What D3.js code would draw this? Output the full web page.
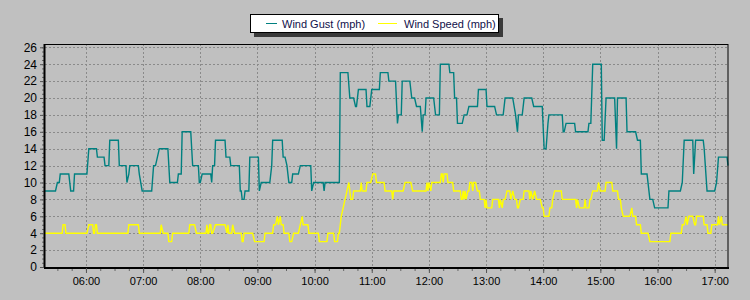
<!DOCTYPE html>
<html>
<head>
<meta charset="utf-8">
<script src="https://cdn.jsdelivr.net/npm/d3@7"></script>
<style>
  html, body { margin: 0; padding: 0; background: #c0c0c0; }
  svg { display: block; font-family: "Liberation Sans", Arial, sans-serif; }
</style>
</head>
<body>
<svg id="chart" width="750" height="300"></svg>
<script>
// series as [time, mph] vertices
const gust = [
  ["05:17",9],["05:28",9],["05:30",10],["05:32",10],["05:33",11],["05:42",11],["05:44",9],["05:47",9],
  ["05:48",11],["06:01",11],["06:03",14],["06:11",14],["06:12",13],["06:19",13],["06:20",12],["06:24",12],
  ["06:25",15],["06:34",15],["06:35",12],["06:42",12],["06:43",10],["06:45",11],["06:46",12],["06:55",12],
  ["06:56",11],["06:59",9],["07:09",9],["07:11",12],["07:13",12],["07:15",13],["07:17",14],["07:26",14],
  ["07:28",10],["07:36",10],["07:37",11],["07:40",11],["07:41",16],["07:50",16],["07:52",12],["07:58",12],
  ["07:59",10],["08:00",10],["08:02",11],["08:11",11],["08:12",10],["08:13",12],["08:15",12],["08:16",15],
  ["08:26",15],["08:27",13],["08:31",13],["08:32",12],["08:41",12],["08:42",9],["08:43",9],["08:44",8],
  ["08:46",8],["08:47",9],["08:51",9],["08:52",13],["09:01",13],["09:02",9],["09:04",10],["09:13",10],
  ["09:15",12],["09:16",15],["09:26",15],["09:27",13],["09:29",13],["09:31",12],["09:32",11],["09:33",10],
  ["09:36",10],["09:37",11],["09:43",11],["09:45",12],["09:56",12],["09:57",9],["09:59",10],["10:09",10],
  ["10:10",9],["10:11",10],["10:26",10],["10:27",23],["10:35",23],["10:37",20],["10:41",20],["10:43",19],
  ["10:44",19],["10:46",21],["10:54",21],["10:55",19],["10:58",19],["11:00",21],["11:08",21],["11:09",23],
  ["11:17",23],["11:18",22],["11:25",22],["11:27",17],["11:28",18],["11:31",18],["11:32",22],["11:40",22],
  ["11:42",20],["11:45",20],["11:47",19],["11:51",19],["11:53",16],["11:54",18],["11:56",18],["11:57",20],
  ["12:05",20],["12:07",18],["12:11",18],["12:12",24],["12:21",24],["12:22",23],["12:26",23],["12:27",20],
  ["12:29",20],["12:30",17],["12:35",17],["12:37",18],["12:40",18],["12:42",19],["12:51",19],["12:52",21],
  ["13:00",21],["13:01",19],["13:09",19],["13:11",18],["13:18",18],["13:20",20],["13:28",20],["13:31",18],
  ["13:33",16],["13:34",18],["13:38",18],["13:40",20],["13:48",20],["13:50",19],["13:59",19],["14:01",14],
  ["14:03",14],["14:05",17],["14:06",18],["14:20",18],["14:21",16],["14:22",16],["14:24",17],["14:33",17],
  ["14:34",16],["14:47",16],["14:48",17],["14:50",17],["14:52",24],["15:01",24],["15:02",15],["15:04",15],
  ["15:06",20],["15:15",20],["15:17",14],["15:18",20],["15:27",20],["15:28",16],["15:37",16],["15:39",15],
  ["15:42",15],["15:43",11],["15:49",11],["15:52",8],["15:55",8],["15:57",7],["16:11",7],["16:12",9],
  ["16:24",9],["16:26",10],["16:28",15],["16:37",15],["16:38",11],["16:40",15],["16:48",15],["16:49",14],
  ["16:52",9],["17:00",9],["17:02",10],["17:04",13],["17:13",13],["17:14",12]
];

const speed = [
  ["05:17",4],["05:35",4],["05:36",5],["05:38",5],["05:39",4],["06:01",4],["06:03",5],["06:07",5],
  ["06:08",4],["06:09",4],["06:10",5],["06:11",5],["06:12",4],["06:44",4],["06:45",5],["06:55",5],
  ["06:56",4],["07:18",4],["07:19",5],["07:21",4],["07:26",4],["07:27",3],["07:30",3],["07:31",4],
  ["07:48",4],["07:49",5],["07:54",5],["07:56",4],["08:06",4],["08:07",5],["08:08",4],["08:09",4],
  ["08:10",5],["08:11",5],["08:12",4],["08:13",4],["08:16",5],["08:26",5],["08:28",4],["08:29",5],
  ["08:30",4],["08:33",4],["08:34",5],["08:36",4],["08:43",4],["08:44",3],["08:45",3],["08:46",4],
  ["08:55",4],["08:57",3],["09:07",3],["09:08",4],["09:16",4],["09:17",5],["09:19",5],["09:21",6],
  ["09:22",5],["09:24",6],["09:25",5],["09:27",5],["09:28",4],["09:33",4],["09:34",3],["09:36",3],
  ["09:38",4],["09:43",4],["09:45",5],["09:47",6],["09:48",5],["09:53",5],["09:54",4],["10:04",4],
  ["10:05",3],["10:13",3],["10:14",4],["10:20",4],["10:21",3],["10:24",3],["10:25",4],["10:26",4],
  ["10:28",6],["10:30",7],["10:32",8],["10:34",9],["10:36",10],["10:38",8],["10:40",8],["10:41",9],
  ["10:48",9],["10:49",10],["10:50",9],["10:54",9],["10:55",10],["10:59",10],["11:01",11],["11:04",11],
  ["11:05",10],["11:13",10],["11:14",9],["11:21",9],["11:22",8],["11:23",9],["11:33",9],["11:35",10],
  ["11:41",10],["11:43",9],["11:57",9],["11:58",10],["11:59",9],["12:00",10],["12:02",9],["12:03",10],
  ["12:12",10],["12:13",11],["12:14",11],["12:15",10],["12:16",11],["12:19",11],["12:20",10],["12:25",10],
  ["12:26",9],["12:33",9],["12:34",8],["12:35",8],["12:36",9],["12:37",8],["12:38",9],["12:39",8],
  ["12:41",9],["12:42",9],["12:43",10],["12:45",10],["12:46",9],["12:47",10],["12:49",10],["12:51",9],
  ["12:53",9],["12:54",8],["12:58",8],["12:59",7],["13:00",8],["13:01",7],["13:06",7],["13:07",8],
  ["13:13",8],["13:14",7],["13:15",8],["13:17",7],["13:18",8],["13:20",8],["13:22",9],["13:25",9],
  ["13:26",8],["13:28",9],["13:30",8],["13:32",8],["13:33",7],["13:34",7],["13:36",8],["13:39",8],
  ["13:40",9],["13:45",9],["13:46",8],["13:47",9],["13:49",8],["13:51",9],["13:53",8],["13:57",8],
  ["13:59",7],["14:00",7],["14:01",6],["14:06",6],["14:07",7],["14:09",7],["14:10",8],["14:12",9],
  ["14:19",9],["14:20",8],["14:34",8],["14:35",7],["14:36",8],["14:38",7],["14:43",7],["14:44",8],
  ["14:45",7],["14:48",7],["14:49",8],["14:50",8],["14:52",9],["14:57",9],["14:58",10],["15:00",9],
  ["15:05",9],["15:06",10],["15:12",10],["15:13",9],["15:18",9],["15:19",8],["15:21",8],["15:22",7],
  ["15:24",6],["15:31",6],["15:33",7],["15:34",6],["15:37",6],["15:38",5],["15:42",5],["15:43",4],
  ["15:50",4],["15:52",3],["16:13",3],["16:14",4],["16:25",4],["16:26",5],["16:28",5],["16:30",6],
  ["16:31",5],["16:33",6],["16:37",6],["16:39",5],["16:40",5],["16:41",6],["16:48",6],["16:49",5],
  ["16:52",5],["16:53",4],["16:56",4],["16:57",5],["17:03",5],["17:04",6],["17:05",5],["17:07",6],
  ["17:08",5],["17:14",5]
];

const seriesNames = ["Wind Gust (mph)", "Wind Speed (mph)"];
const seriesColors = ["#008080", "#ffff00"];
const timeRange = ["05:17", "17:14"];
const yTicks = d3.range(0, 27, 2);

const parse = d3.timeParse("%H:%M");
const svg = d3.select("#chart");

const plotLeft = 45, plotRight = 728, plotTop = 44, plotBottom = 267;

const x = d3.scaleTime()
  .domain(timeRange.map(parse))
  .range([plotLeft, plotRight]);

const y = d3.scaleLinear()
  .domain([0, 26])
  .range([plotBottom, 47.3]);

// grid
const grid = svg.append("g")
  .attr("stroke", "#8a8a8a")
  .attr("stroke-width", 1)
  .attr("stroke-dasharray", "2,2");

grid.selectAll("line.h")
  .data(yTicks.filter(d => d > 0))
  .enter().append("line")
  .attr("x1", plotLeft).attr("x2", plotRight)
  .attr("y1", d => Math.round(y(d)) + 0.5)
  .attr("y2", d => Math.round(y(d)) + 0.5);

grid.selectAll("line.v")
  .data(x.ticks(d3.timeHour.every(1)))
  .enter().append("line")
  .attr("y1", plotTop).attr("y2", plotBottom)
  .attr("x1", d => Math.round(x(d)) + 0.5)
  .attr("x2", d => Math.round(x(d)) + 0.5);

// lines
const line = d3.line()
  .x(d => x(parse(d[0])))
  .y(d => y(d[1]));

[gust, speed].forEach((s, i) => {
  svg.append("path")
    .datum(s)
    .attr("fill", "none")
    .attr("stroke", seriesColors[i])
    .attr("stroke-width", 1.4)
    .attr("d", line);
});

// frame
svg.append("rect")
  .attr("x", plotLeft - 0.5).attr("y", plotTop + 0.5)
  .attr("width", plotRight - plotLeft + 0.5).attr("height", plotBottom - plotTop)
  .attr("fill", "none")
  .attr("stroke", "#000")
  .attr("stroke-width", 1);

// y axis
const yMinor = svg.append("g")
  .attr("transform", `translate(${plotLeft - 1},0)`)
  .call(d3.axisLeft(y).tickValues(d3.range(0, 26.01, 0.5)).tickSize(2).tickFormat(""));
yMinor.select(".domain").remove();
yMinor.selectAll("line").attr("stroke", "#666");

const yAxis = svg.append("g")
  .attr("transform", `translate(${plotLeft - 1},0)`)
  .call(d3.axisLeft(y).tickValues(yTicks).tickSize(4).tickPadding(3));
yAxis.select(".domain").attr("stroke", "#000").attr("stroke-width", 2)
  .attr("d", `M0.5,${plotTop}V${plotBottom + 1}`);
yAxis.selectAll("text").attr("font-size", 12).attr("fill", "#000")
  .attr("font-family", "Liberation Sans, Arial, sans-serif");
yAxis.selectAll("line").attr("stroke", "#555");

// x axis
const xMinor = svg.append("g")
  .attr("transform", `translate(0,${plotBottom + 1})`)
  .call(d3.axisBottom(x).ticks(d3.timeMinute.every(15)).tickSize(3).tickFormat(""));
xMinor.select(".domain").remove();
xMinor.selectAll("line").attr("stroke", "#666");

const xAxis = svg.append("g")
  .attr("transform", `translate(0,${plotBottom + 1})`)
  .call(d3.axisBottom(x).ticks(d3.timeHour.every(1)).tickFormat(d3.timeFormat("%H:%M")).tickSize(5).tickPadding(4));
xAxis.select(".domain").attr("stroke", "#000").attr("stroke-width", 2)
  .attr("d", `M${plotLeft - 1},0H${plotRight + 1}`);
xAxis.selectAll("text").attr("font-size", 11).attr("fill", "#000")
  .attr("font-family", "Liberation Sans, Arial, sans-serif");
xAxis.selectAll("line").attr("stroke", "#555");

// legend
const lg = svg.append("g").attr("transform", "translate(250,14)");
lg.append("rect")
  .attr("x", 4).attr("y", 4).attr("width", 249).attr("height", 19)
  .attr("fill", "#3a3a3a");
lg.append("rect")
  .attr("x", 0.5).attr("y", 0.5).attr("width", 248).attr("height", 18)
  .attr("fill", "#fff").attr("stroke", "#000");

const items = lg.selectAll("g.item")
  .data(seriesNames)
  .enter().append("g")
  .attr("transform", (d, i) => `translate(${i === 0 ? 16 : 128},0)`);

items.append("line")
  .attr("x1", 0).attr("x2", (d, i) => i === 0 ? 11 : 19)
  .attr("y1", 9.5).attr("y2", 9.5)
  .attr("stroke", (d, i) => seriesColors[i])
  .attr("stroke-width", 1);

items.append("text")
  .attr("x", (d, i) => i === 0 ? 16 : 26)
  .attr("y", 13.5)
  .attr("font-size", 11)
  .attr("fill", "#10104a")
  .text(d => d);
</script>
</body>
</html>
